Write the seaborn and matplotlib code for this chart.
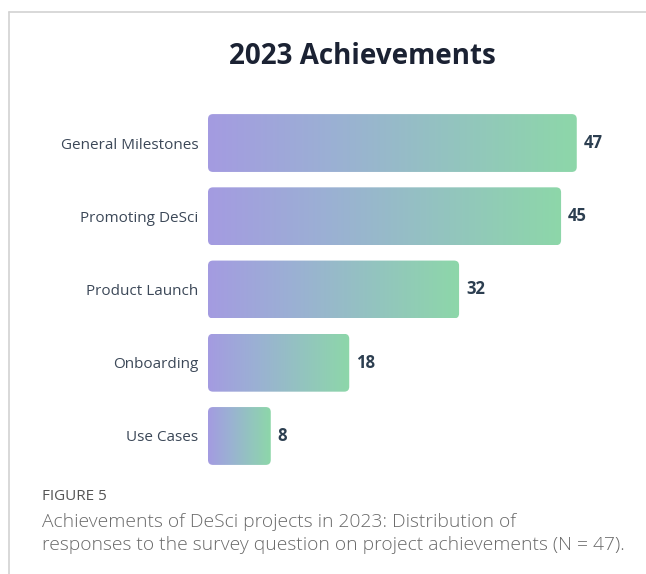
import numpy as np
import pandas as pd
import matplotlib
matplotlib.use("Agg")
import matplotlib.pyplot as plt
import seaborn as sns
from matplotlib.patches import FancyBboxPatch
from matplotlib.lines import Line2D
from matplotlib.colors import LinearSegmentedColormap

categories = ["General Milestones", "Promoting DeSci", "Product Launch", "Onboarding", "Use Cases"]
counts = [47, 45, 32, 18, 8]

title = "2023 Achievements"
caption_head = "FIGURE 5"
caption_lines = [
    "Achievements of DeSci projects in 2023: Distribution of",
    "responses to the survey question on project achievements (N = 47).",
]

sns.set_theme(style="white")
plt.rcParams["font.family"] = ["Open Sans", "DejaVu Sans"]

W, H = 646, 574
fig = plt.figure(figsize=(W / 100, H / 100), dpi=100)
fig.patch.set_facecolor("white")

# axes placed in pixel terms
left_px, right_px, top_px, bot_px = 208, 616, 106.4, 472.6
ax = fig.add_axes([left_px / W, 1 - bot_px / H, (right_px - left_px) / W, (bot_px - top_px) / H])

df = pd.DataFrame({"category": categories, "count": counts})
sns.barplot(data=df, y="category", x="count", orient="h", width=0.79,
            color="#a39be0", ax=ax)

ax.set_xlim(0, 52)
ax.set_ylim(len(categories) - 0.5, -0.5)
for s in ax.spines.values():
    s.set_visible(False)
ax.set_xticks([])
ax.set_xlabel("")
ax.set_ylabel("")
ax.tick_params(axis="y", length=0, pad=7, labelsize=11, labelcolor="#3c4858")

# pixel size of one data unit along each axis
px_x = (right_px - left_px) / 52
px_y = (bot_px - top_px) / len(categories)
radius_px = 5
r_x = radius_px / px_x
aspect = (radius_px / px_y) / r_x

cmap = LinearSegmentedColormap.from_list(
    "purple_green", ["#a49be1", "#9bb0d4", "#93c4bf", "#8dd7a9"])
grad = np.linspace(0, 1, 256).reshape(1, -1)

for patch, val in zip(ax.patches, counts):
    x0, y0 = patch.get_x(), patch.get_y()
    w, h = patch.get_width(), patch.get_height()
    patch.set_visible(False)
    box = FancyBboxPatch((x0, y0), w, h,
                         boxstyle=f"round,pad=0,rounding_size={r_x}",
                         mutation_aspect=aspect,
                         facecolor="none", edgecolor="none")
    ax.add_patch(box)
    im = ax.imshow(grad, cmap=cmap, aspect="auto",
                   extent=[x0, x0 + w, y0 + h, y0], interpolation="bilinear",
                   zorder=2)
    im.set_clip_path(box)
    ax.annotate(str(val), xy=(x0 + w, y0 + h / 2), xytext=(5, 0),
                textcoords="offset points", ha="left", va="center",
                fontsize=12, fontweight="bold", color="#2c3e50")

ax.set_xlim(0, 52)
ax.set_ylim(len(categories) - 0.5, -0.5)

fig.text(362 / W, 1 - 57 / H, title, ha="center", va="center",
         fontsize=20, fontweight="bold", color="#1b2233")

# frame lines of the panel
frame_color = "#d2d2d2"
fig.add_artist(Line2D([9 / W, 1], [1 - 11.5 / H, 1 - 11.5 / H],
                      transform=fig.transFigure, color=frame_color, lw=1.2))
fig.add_artist(Line2D([9 / W, 9 / W], [1 - 11.5 / H, 0],
                      transform=fig.transFigure, color=frame_color, lw=1.2))

fig.text(42 / W, 1 - 497 / H, caption_head, ha="left", va="center",
         fontsize=11, color="#555555")
for i, line in enumerate(caption_lines):
    fig.text(42 / W, 1 - (522 + 23 * i) / H, line, ha="left", va="center",
             fontsize=13.9, color="#6a6a6a", fontweight="light")

fig.savefig("out.png", dpi=100, facecolor="white")
